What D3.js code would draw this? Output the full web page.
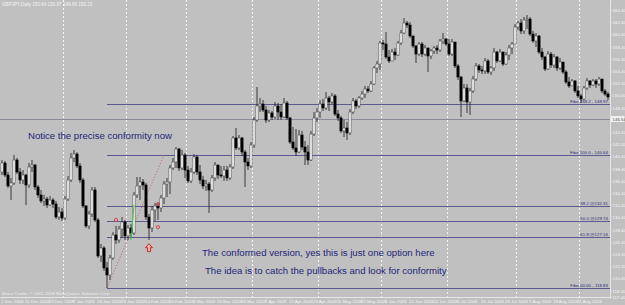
<!DOCTYPE html>
<html>
<head>
<meta charset="utf-8">
<script src="https://cdn.jsdelivr.net/npm/d3@7"></script>
<style>
  body { margin: 0; background: #c0c0c0; }
  svg { display: block; font-family: Arial, "Liberation Sans", sans-serif; }
</style>
</head>
<body>
<div class="chart"></div>
<script>
// GBPJPY daily, 1 Dec 2008 .. 14 Sep 2009 (prices)
var symbol = "GBPJPY,Daily";
var firstOpen = 137.85;

var closes = [
  139.33, 137.36, 135.56, 136.05, 139.82, 137.85, 136.54, 137.36, 135.72, 138.67,
  139.00, 135.39, 134.08, 133.10, 133.42, 132.44, 133.26, 132.60, 130.47, 131.29,
  130.31, 133.42, 136.54, 140.15, 140.80, 138.84, 136.54, 132.28, 129.00, 130.96,
  134.90, 129.98, 124.08, 125.39, 122.11, 120.96, 123.75, 127.52, 126.70, 128.50,
  129.65, 127.36, 128.67, 127.85, 134.08, 135.56, 136.21, 135.72, 130.47, 128.67,
  131.62, 132.28, 131.95, 133.59, 135.88, 136.21, 138.51, 139.49, 141.62, 138.51,
  140.64, 138.18, 136.38, 137.85, 140.31, 137.85, 136.54, 135.56, 135.88, 134.90,
  136.87, 139.00, 137.36, 137.20, 138.18, 136.87, 138.67, 143.43, 141.79, 143.43,
  141.13, 139.49, 138.84, 142.28, 146.38, 148.68, 149.00, 148.02, 146.38, 147.53,
  146.87, 148.68, 147.69, 146.87, 149.17, 146.71, 142.77, 141.79, 141.13, 143.92,
  141.95, 141.13, 139.82, 144.08, 146.71, 147.69, 149.00, 148.35, 149.99, 149.33,
  150.32, 147.36, 146.71, 144.58, 145.07, 144.25, 147.69, 149.50, 148.68, 149.99,
  150.64, 151.46, 151.14, 152.28, 154.91, 155.56, 159.01, 158.84, 156.71, 156.06,
  157.53, 157.04, 159.01, 160.65, 162.29, 161.96, 160.16, 158.52, 157.20, 158.84,
  157.20, 158.19, 156.88, 157.70, 158.19, 157.86, 159.34, 159.66, 158.84, 157.20,
  159.17, 155.24, 153.43, 149.50, 151.63, 149.33, 151.14, 153.10, 155.24, 154.58,
  154.42, 156.06, 154.25, 154.91, 157.53, 156.06, 157.53, 155.56, 157.04, 158.19,
  158.84, 161.63, 162.29, 160.98, 162.78, 162.94, 160.48, 159.34, 160.16, 157.53,
  156.71, 154.74, 157.20, 155.40, 156.71, 154.91, 155.89, 154.25, 152.61, 151.96,
  152.78, 151.14, 150.32, 149.82, 151.63, 152.78, 152.12, 152.78, 152.28, 153.10,
  151.14, 150.64, 150.15
];

var highs = [
  139.82, 139.66, 137.85, 136.87, 140.64, 140.15, 138.51, 138.18, 137.52, 139.33,
  139.82, 139.16, 135.72, 134.90, 134.08, 133.75, 133.92, 133.59, 133.10, 132.11,
  131.95, 133.92, 137.20, 140.97, 141.46, 141.10, 139.33, 136.87, 132.44, 131.46,
  135.39, 135.39, 130.31, 126.04, 125.70, 123.09, 124.24, 128.01, 129.00, 129.00,
  130.47, 129.98, 129.16, 129.33, 134.57, 137.03, 137.03, 136.70, 136.05, 130.96,
  132.28, 132.77, 132.77, 134.08, 136.38, 136.87, 139.00, 140.15, 141.95, 141.79,
  141.46, 140.97, 138.84, 138.51, 140.80, 140.64, 139.00, 137.20, 136.54, 136.21,
  137.36, 139.49, 139.00, 138.84, 138.84, 138.84, 139.16, 143.76, 145.07, 143.92,
  143.60, 141.46, 140.15, 142.77, 146.87, 151.79, 149.99, 149.66, 148.68, 148.02,
  147.86, 149.33, 149.17, 149.00, 149.99, 149.50, 146.87, 145.23, 144.90, 144.74,
  144.58, 142.94, 142.28, 144.58, 147.69, 148.35, 149.66, 149.82, 150.97, 150.32,
  150.81, 150.64, 148.02, 147.04, 146.38, 146.05, 148.18, 149.99, 149.82, 150.32,
  151.14, 151.96, 151.96, 152.78, 155.24, 156.06, 159.34, 159.50, 160.81, 157.86,
  158.02, 158.19, 159.34, 161.14, 163.11, 162.62, 162.45, 160.16, 158.68, 159.17,
  159.17, 158.68, 158.19, 158.02, 158.52, 158.68, 159.66, 160.65, 159.83, 159.66,
  159.66, 159.17, 155.56, 153.60, 152.28, 152.28, 151.63, 153.60, 155.73, 155.56,
  155.24, 156.55, 156.38, 155.24, 158.19, 157.70, 158.02, 157.53, 157.53, 158.68,
  159.17, 162.12, 162.62, 162.94, 163.27, 163.60, 163.27, 160.98, 160.65, 160.32,
  158.19, 156.88, 157.70, 157.53, 157.20, 156.88, 156.55, 155.89, 154.58, 153.43,
  153.10, 152.94, 151.96, 150.64, 151.96, 153.27, 152.94, 153.10, 153.10, 153.43,
  153.10, 151.46, 150.97
];

var lows = [
  137.36, 137.03, 135.23, 133.26, 135.72, 137.52, 135.88, 135.88, 132.44, 135.23,
  137.85, 134.90, 133.59, 132.77, 132.28, 131.95, 132.28, 131.95, 130.14, 129.98,
  129.82, 129.98, 133.10, 136.21, 139.49, 138.51, 136.05, 131.95, 128.67, 128.50,
  130.47, 129.65, 123.75, 123.09, 121.62, 118.83, 120.14, 123.42, 126.04, 126.21,
  127.03, 126.70, 126.70, 127.19, 127.52, 133.59, 133.26, 134.90, 129.98, 126.70,
  128.01, 129.82, 129.98, 131.29, 132.60, 133.75, 134.24, 138.18, 138.51, 138.02,
  138.18, 136.87, 136.05, 136.05, 137.52, 137.36, 135.88, 135.06, 134.74, 131.13,
  134.57, 136.38, 136.70, 136.87, 136.38, 136.38, 136.54, 138.34, 141.46, 141.46,
  140.48, 135.39, 138.18, 138.51, 141.79, 146.05, 147.69, 147.69, 145.89, 146.05,
  146.38, 146.54, 146.38, 146.38, 146.71, 146.38, 142.44, 141.46, 140.48, 140.97,
  141.46, 139.00, 139.00, 139.66, 143.76, 146.05, 146.71, 147.86, 148.02, 147.86,
  149.00, 147.04, 146.22, 144.25, 143.59, 143.10, 143.92, 147.36, 148.18, 148.35,
  149.66, 149.99, 150.81, 150.97, 152.12, 154.09, 154.58, 157.86, 156.38, 155.73,
  156.06, 156.22, 156.88, 158.68, 160.48, 161.47, 159.83, 158.19, 155.73, 156.88,
  156.71, 156.88, 154.25, 156.38, 157.20, 157.20, 157.53, 158.84, 158.52, 156.88,
  156.88, 154.91, 152.94, 146.87, 149.33, 147.53, 147.20, 150.81, 152.78, 154.09,
  153.92, 153.92, 153.92, 153.76, 154.42, 155.73, 155.89, 155.24, 155.40, 156.22,
  157.20, 158.84, 161.14, 160.48, 160.48, 161.30, 160.16, 159.01, 158.35, 157.20,
  156.22, 154.42, 154.58, 154.91, 154.91, 154.42, 154.58, 153.92, 152.28, 151.63,
  151.96, 150.81, 149.99, 149.17, 149.66, 151.30, 151.63, 151.96, 151.63, 151.96,
  150.81, 150.32, 149.66
];

// right price scale labels
var priceTicks = [164.40, 162.40, 160.40, 158.40, 156.40, 154.40, 152.40, 150.40,
  148.40, 144.40, 142.40, 140.40, 138.40, 136.40, 134.40, 132.40, 130.40,
  128.40, 126.40, 124.40, 122.40, 120.40, 118.40, 117.40];
var holidays = ["2008-12-25", "2008-12-26", "2009-01-01"];
var dateLabelEvery = 8;

// fibo levels and horizontal line
var fiboPrices = [148.97, 140.64, 132.31, 129.74, 127.16, 118.83];
var fiboLabels = ["Fibo 138.2 - 148.97", "Fibo 100.0 - 140.64", "38.2 @132.31",
  "50.0 @129.74", "61.8 @127.16", "Fibo 00.00 - 118.83"];
var fiboStartBar = 35, fiboEndBar = 54;
var hLinePrice = 146.54;

// annotations (bar index, price)
var notes = [
  {text: "Notice the precise conformity now", bar: 9, price: 143.3},
  {text: "The conformed version, yes this is just one option here", bar: 67, price: 124.1},
  {text: "The idea is to catch the pullbacks and look for conformity", bar: 68, price: 121.2}
];
var marks = [{bar: 38, price: 130.0}, {bar: 52, price: 132.6}, {bar: 52, price: 128.8}];
var arrowMark = {bar: 49, price: 126.1};
var greenStroke = [{bar: 44, price: 132.45}, {bar: 43, price: 126.7}];

var width = 625, height = 305,
    plotRight = 610, plotBottom = 297;

var fmtKey = d3.timeFormat("%Y-%m-%d");
var dates = d3.timeDay.range(new Date(2008, 11, 1), new Date(2009, 8, 15))
  .filter(function(d) { return d.getDay() % 6 !== 0 && holidays.indexOf(fmtKey(d)) < 0; })
  .slice(0, closes.length);
var keys = dates.map(fmtKey);

var bars = closes.map(function(c, i) {
  return {key: keys[i], date: dates[i], open: i ? closes[i - 1] : firstOpen,
          close: c, high: highs[i], low: lows[i]};
});

var x = d3.scaleBand().domain(keys).range([0.5, plotRight - 0.5]);
var y = d3.scaleLinear().domain([117.35, 166.06]).range([plotBottom, 0]);
function cx(i) { return x(keys[i]) + x.bandwidth() / 2; }

var svg = d3.select(".chart").append("svg")
    .attr("width", width)
    .attr("height", height);

svg.append("rect").attr("width", width).attr("height", height).attr("fill", "#c0c0c0");

// month separators
var monthStarts = bars.filter(function(d, i) {
  return i > 0 && d.date.getMonth() !== bars[i - 1].date.getMonth();
});
svg.selectAll("line.sep").data(monthStarts).enter().append("line")
    .attr("x1", function(d) { return Math.round(x(d.key)) - 0.5; })
    .attr("x2", function(d) { return Math.round(x(d.key)) - 0.5; })
    .attr("y1", 0).attr("y2", plotBottom)
    .attr("stroke", "#f2f2f2").attr("stroke-dasharray", "2,2");

// horizontal line
svg.append("line")
    .attr("x1", 0).attr("x2", plotRight)
    .attr("y1", Math.round(y(hLinePrice)) + 0.5).attr("y2", Math.round(y(hLinePrice)) + 0.5)
    .attr("stroke", "#8a8a9a");

// fibo lines
var fibo = svg.append("g");
fiboPrices.forEach(function(p, k) {
  var yy = Math.round(y(p)) + 0.5;
  fibo.append("line")
      .attr("x1", cx(fiboStartBar)).attr("x2", plotRight)
      .attr("y1", yy).attr("y2", yy)
      .attr("stroke", "#5a5a8e");
  fibo.append("text")
      .attr("x", plotRight - 2).attr("y", yy - 1.5)
      .attr("text-anchor", "end")
      .attr("font-size", "4.4px")
      .attr("fill", "#2c2c78")
      .text(fiboLabels[k]);
});
svg.append("line")
    .attr("x1", cx(fiboStartBar)).attr("y1", y(fiboPrices[5]))
    .attr("x2", cx(fiboEndBar)).attr("y2", y(fiboPrices[1]))
    .attr("stroke", "#d05a5a").attr("stroke-dasharray", "1,2");

// candles
var candles = svg.append("g");
candles.selectAll("line.wick").data(bars).enter().append("line")
    .attr("x1", function(d, i) { return cx(i); })
    .attr("x2", function(d, i) { return cx(i); })
    .attr("y1", function(d) { return y(d.high); })
    .attr("y2", function(d) { return y(d.low); })
    .attr("stroke", "#2a2a2a").attr("stroke-width", 0.9);
candles.selectAll("rect.body").data(bars).enter().append("rect")
    .attr("x", function(d, i) { return cx(i) - 1.1; })
    .attr("width", 2.2)
    .attr("y", function(d) { return y(Math.max(d.open, d.close)); })
    .attr("height", function(d) { return Math.max(0.8, Math.abs(y(d.open) - y(d.close))); })
    .attr("fill", function(d) { return d.close >= d.open ? "#ffffff" : "#000000"; })
    .attr("stroke", function(d) { return d.close >= d.open ? "#505050" : "#000000"; })
    .attr("stroke-width", 0.6);

// markers
svg.append("line")
    .attr("x1", cx(greenStroke[0].bar)).attr("y1", y(greenStroke[0].price))
    .attr("x2", cx(greenStroke[1].bar)).attr("y2", y(greenStroke[1].price))
    .attr("stroke", "#3ec83e").attr("stroke-width", 1);
svg.selectAll("circle.mark").data(marks).enter().append("circle")
    .attr("cx", function(d) { return cx(d.bar); })
    .attr("cy", function(d) { return y(d.price); })
    .attr("r", 1.6)
    .attr("fill", "none").attr("stroke", "#d83a3a").attr("stroke-width", 0.9);
svg.append("path")
    .attr("transform", "translate(" + cx(arrowMark.bar) + "," + y(arrowMark.price) + ")")
    .attr("d", "M0,0L3.5,4L1.5,4L1.5,8L-1.5,8L-1.5,4L-3.5,4Z")
    .attr("fill", "#f0b0b0").attr("stroke", "#d02828").attr("stroke-width", 1);

// notes
svg.selectAll("text.note").data(notes).enter().append("text")
    .attr("x", function(d) { return cx(d.bar) - 1; })
    .attr("y", function(d) { return y(d.price); })
    .attr("font-size", "9.6px")
    .attr("fill", "#24247a")
    .text(function(d) { return d.text; });

// price axis
var yAxis = svg.append("g")
    .attr("transform", "translate(" + plotRight + ",0)")
    .call(d3.axisRight(y).tickValues(priceTicks).tickSize(1.5).tickFormat(d3.format(".2f")));
yAxis.select(".domain").attr("stroke", "#e6e6e6");
yAxis.selectAll("line").attr("stroke", "#e6e6e6");
yAxis.selectAll("text").attr("font-size", "4.4px").attr("fill", "#f4f4f4").attr("x", 2.5);

// box for the horizontal line price
svg.append("rect")
    .attr("x", plotRight + 1).attr("y", y(hLinePrice) - 3)
    .attr("width", 13.5).attr("height", 6).attr("fill", "#f0f0f0");
svg.append("text")
    .attr("x", plotRight + 2.5).attr("y", y(hLinePrice) + 1.6)
    .attr("font-size", "4.4px").attr("fill", "#505050")
    .text(hLinePrice.toFixed(2));

// time axis (drop a label that would run past the plot)
var dateTicks = keys.filter(function(k, i) {
  return i % dateLabelEvery === 0 && x(k) + 20 < plotRight;
});
var xAxis = svg.append("g")
    .attr("transform", "translate(0," + plotBottom + ")")
    .call(d3.axisBottom(x)
      .tickValues(dateTicks)
      .tickSize(1.5)
      .tickFormat(function(k) { return d3.timeFormat("%-d %b %Y")(dates[keys.indexOf(k)]); }));
xAxis.select(".domain").attr("stroke", "#e6e6e6");
xAxis.selectAll("line").attr("stroke", "#e6e6e6");
xAxis.selectAll("text")
    .attr("font-size", "4.4px").attr("fill", "#f4f4f4")
    .attr("text-anchor", "start").attr("dx", "-1").attr("y", 2.5);

// title and copyright
svg.append("text")
    .attr("x", 2).attr("y", 5.5)
    .attr("font-size", "4.6px").attr("fill", "#f4f4f4")
    .text(symbol + "  " + bars[bars.length - 1].open.toFixed(2) + " " +
          bars[bars.length - 1].high.toFixed(2) + " " +
          bars[bars.length - 1].low.toFixed(2) + " " +
          bars[bars.length - 1].close.toFixed(2));
svg.append("text")
    .attr("x", 2).attr("y", plotBottom - 2)
    .attr("font-size", "4.4px").attr("fill", "#eeeeee")
    .text("Broco Trader, \u00a9 2001-2009 MetaQuotes Software Corp.");
</script>
</body>
</html>
